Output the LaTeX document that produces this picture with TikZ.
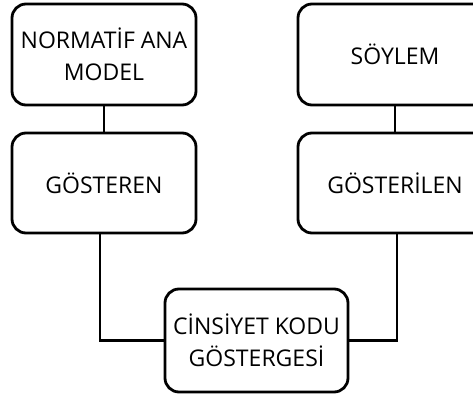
\documentclass[tikz,border=0pt]{standalone}
\usepackage{fontspec}
\setmainfont{Open Sans}
\begin{document}
\begin{tikzpicture}[x=1pt,y=1pt,
  box/.style={draw, line width=2.8pt, rounded corners=14pt, align=center,
    inner sep=0pt, font=\fontsize{23}{32}\selectfont},
  link/.style={line width=2.8pt}]
\useasboundingbox (0,0) rectangle (473,399);
\clip (0,0) rectangle (473,399);
\fill[white] (0,0) rectangle (473,399);
\node[box, minimum width=184pt, minimum height=101pt] (a) at (104,344.5) {NORMATİF ANA\\MODEL};
\node[box, minimum width=184pt, minimum height=100pt] (b) at (104,216) {GÖSTEREN};
\node[box, minimum width=194pt, minimum height=101pt] (c) at (395,344.5) {SÖYLEM};
\node[box, minimum width=194pt, minimum height=100pt] (d) at (395,216) {GÖSTERİLEN};
\node[box, minimum width=183pt, minimum height=103pt] (e) at (256.5,58.5) {CİNSİYET KODU\\GÖSTERGESİ};
\draw[link] (a.south) -- (b.north);
\draw[link] (c.south) -- (d.north);
\draw[link] ([xshift=-4pt]b.south) |- (e.west);
\draw[link] ([xshift=2pt]d.south) |- (e.east);
\end{tikzpicture}
\end{document}
